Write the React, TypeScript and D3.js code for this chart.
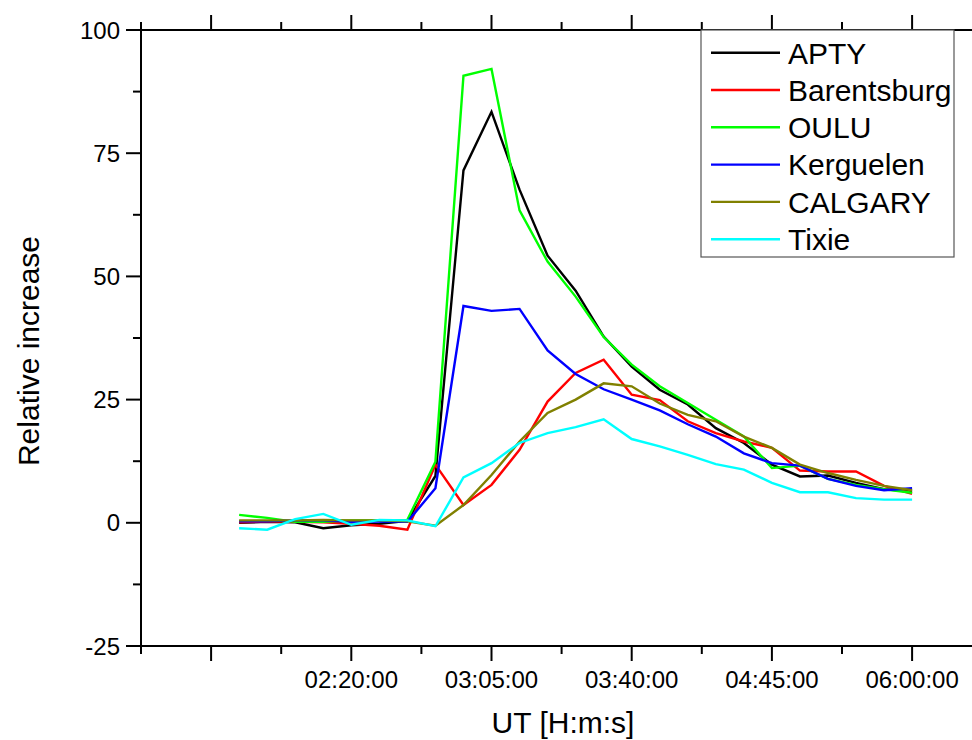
import React from "react";
import * as d3 from "d3";

const seriesNames = ["APTY", "Barentsburg", "OULU", "Kerguelen", "CALGARY", "Tixie"];
const seriesColors = ["#000000", "#ff0000", "#00ff00", "#0000ff", "#808000", "#00ffff"];

const apty = [0.0, 0.2, 0.1, -1.1, -0.5, -0.2, 0.4, 9.5, 71.5, 83.4, 67.6, 54.2, 47.1, 37.8, 31.7, 27.0, 24.0, 19.2, 16.2, 11.8, 9.4, 9.6, 8.1, 6.8, 6.4];
const barentsburg = [0.1, 0.3, 0.2, 0.1, -0.2, -0.6, -1.4, 11.8, 3.6, 7.7, 14.8, 24.6, 30.4, 33.1, 26.0, 24.9, 20.6, 18.2, 16.5, 15.2, 10.6, 10.4, 10.4, 7.5, 5.9];
const oulu = [1.6, 1.0, 0.2, 0.2, 0.5, 0.5, 0.6, 12.4, 90.7, 92.1, 63.4, 53.0, 45.9, 37.7, 32.1, 27.7, 24.3, 20.9, 17.5, 11.1, 11.6, 8.9, 7.7, 6.8, 6.1];
const kerguelen = [0.3, 0.3, 0.5, 0.5, 0.2, 0.3, 0.2, 7.0, 44.0, 43.0, 43.4, 35.0, 30.2, 27.1, 25.0, 22.8, 20.0, 17.5, 14.1, 12.1, 11.6, 8.9, 7.5, 6.6, 7.0];
const calgary = [0.5, 0.5, 0.5, 0.6, 0.5, 0.5, 0.3, -0.6, 3.6, 9.7, 16.5, 22.3, 25.0, 28.3, 27.7, 24.2, 21.9, 20.6, 17.5, 15.2, 11.8, 10.1, 8.7, 7.5, 6.6];
const tixie = [-1.1, -1.4, 0.75, 1.8, -0.4, 0.6, 0.5, -0.7, 9.2, 12.1, 16.2, 18.2, 19.4, 21.0, 17.0, 15.5, 13.8, 11.9, 10.8, 8.1, 6.2, 6.2, 5.0, 4.7, 4.7];

const seriesValues = [apty, barentsburg, oulu, kerguelen, calgary, tixie];

// x positions are sample indices; labelled major ticks
const majorTickIdx = [-1, 4, 9, 14, 19, 24];
const majorTickLabels = ["", "02:20:00", "03:05:00", "03:40:00", "04:45:00", "06:00:00"];
const minorTickIdx = [-3.5, 1.5, 6.5, 11.5, 16.5, 21.5, 26.5];
const yMajorTicks = [-25, 0, 25, 50, 75, 100];
const yMinorTicks = [-12.5, 12.5, 37.5, 62.5, 87.5];

const FONT = "'Liberation Sans', Arial, sans-serif";

export default function App() {
  const W = 972, H = 740;
  const left = 141, top = 30, bottom = 646;
  const x = d3.scaleLinear().domain([-3.5, 26.5]).range([left, left + 30 * 28.04]);
  const y = d3.scaleLinear().domain([-25, 100]).range([bottom, top]);
  const line = d3.line<number>().x((_, i) => x(i)).y((d) => y(d));
  const xEnd = x(26.5);

  const legX = 701, legY = 30, legW = 253, legH = 227, rowH = 37.3, row0 = 52.7;

  return (
    <svg width={W} height={H} style={{ position: "absolute", left: 0, top: 0, background: "#fff" }} fontFamily={FONT}>
      <rect x={0} y={0} width={W} height={H} fill="#fff" />
      {seriesValues.map((vals, k) => (
        <path key={k} d={line(vals) || ""} fill="none" stroke={seriesColors[k]} strokeWidth={2.4} strokeLinejoin="miter" />
      ))}
      {/* axes */}
      <line x1={left} x2={xEnd} y1={top} y2={top} stroke="#000" strokeWidth={2} />
      <line x1={left} x2={xEnd} y1={bottom} y2={bottom} stroke="#000" strokeWidth={2} />
      <line x1={left} x2={left} y1={top - 1} y2={bottom + 1} stroke="#000" strokeWidth={2} />
      {majorTickIdx.map((t, i) => (
        <g key={"mj" + i}>
          <line x1={x(t)} x2={x(t)} y1={bottom} y2={bottom + 15} stroke="#000" strokeWidth={2} />
          <line x1={x(t)} x2={x(t)} y1={top} y2={top - 15} stroke="#000" strokeWidth={2} />
          {majorTickLabels[i] && (
            <text x={x(t)} y={688} fontSize={24} textAnchor="middle">{majorTickLabels[i]}</text>
          )}
        </g>
      ))}
      {minorTickIdx.map((t, i) => (
        <g key={"mn" + i}>
          <line x1={x(t)} x2={x(t)} y1={bottom} y2={bottom + 8} stroke="#000" strokeWidth={2} />
          <line x1={x(t)} x2={x(t)} y1={top} y2={top - 8} stroke="#000" strokeWidth={2} />
        </g>
      ))}
      {yMajorTicks.map((t) => (
        <g key={"ym" + t}>
          <line x1={left} x2={left - 15} y1={y(t)} y2={y(t)} stroke="#000" strokeWidth={2} />
          <text x={120} y={y(t)} dy="0.36em" fontSize={24} textAnchor="end">{t}</text>
        </g>
      ))}
      {yMinorTicks.map((t) => (
        <line key={"yn" + t} x1={left} x2={left - 8} y1={y(t)} y2={y(t)} stroke="#000" strokeWidth={2} />
      ))}
      <text x={563} y={733} fontSize={30} textAnchor="middle">UT [H:m:s]</text>
      <text transform={`translate(39, 351) rotate(-90)`} fontSize={30} textAnchor="middle">Relative increase</text>
      {/* legend */}
      <rect x={legX} y={legY} width={legW} height={legH} fill="#fff" stroke="#555" strokeWidth={1.2} />
      {seriesNames.map((n, k) => (
        <g key={n}>
          <line x1={711} x2={780} y1={row0 + k * rowH} y2={row0 + k * rowH} stroke={seriesColors[k]} strokeWidth={2.4} />
          <text x={788} y={row0 + k * rowH} dy="0.36em" fontSize={30}>{n}</text>
        </g>
      ))}
    </svg>
  );
}
